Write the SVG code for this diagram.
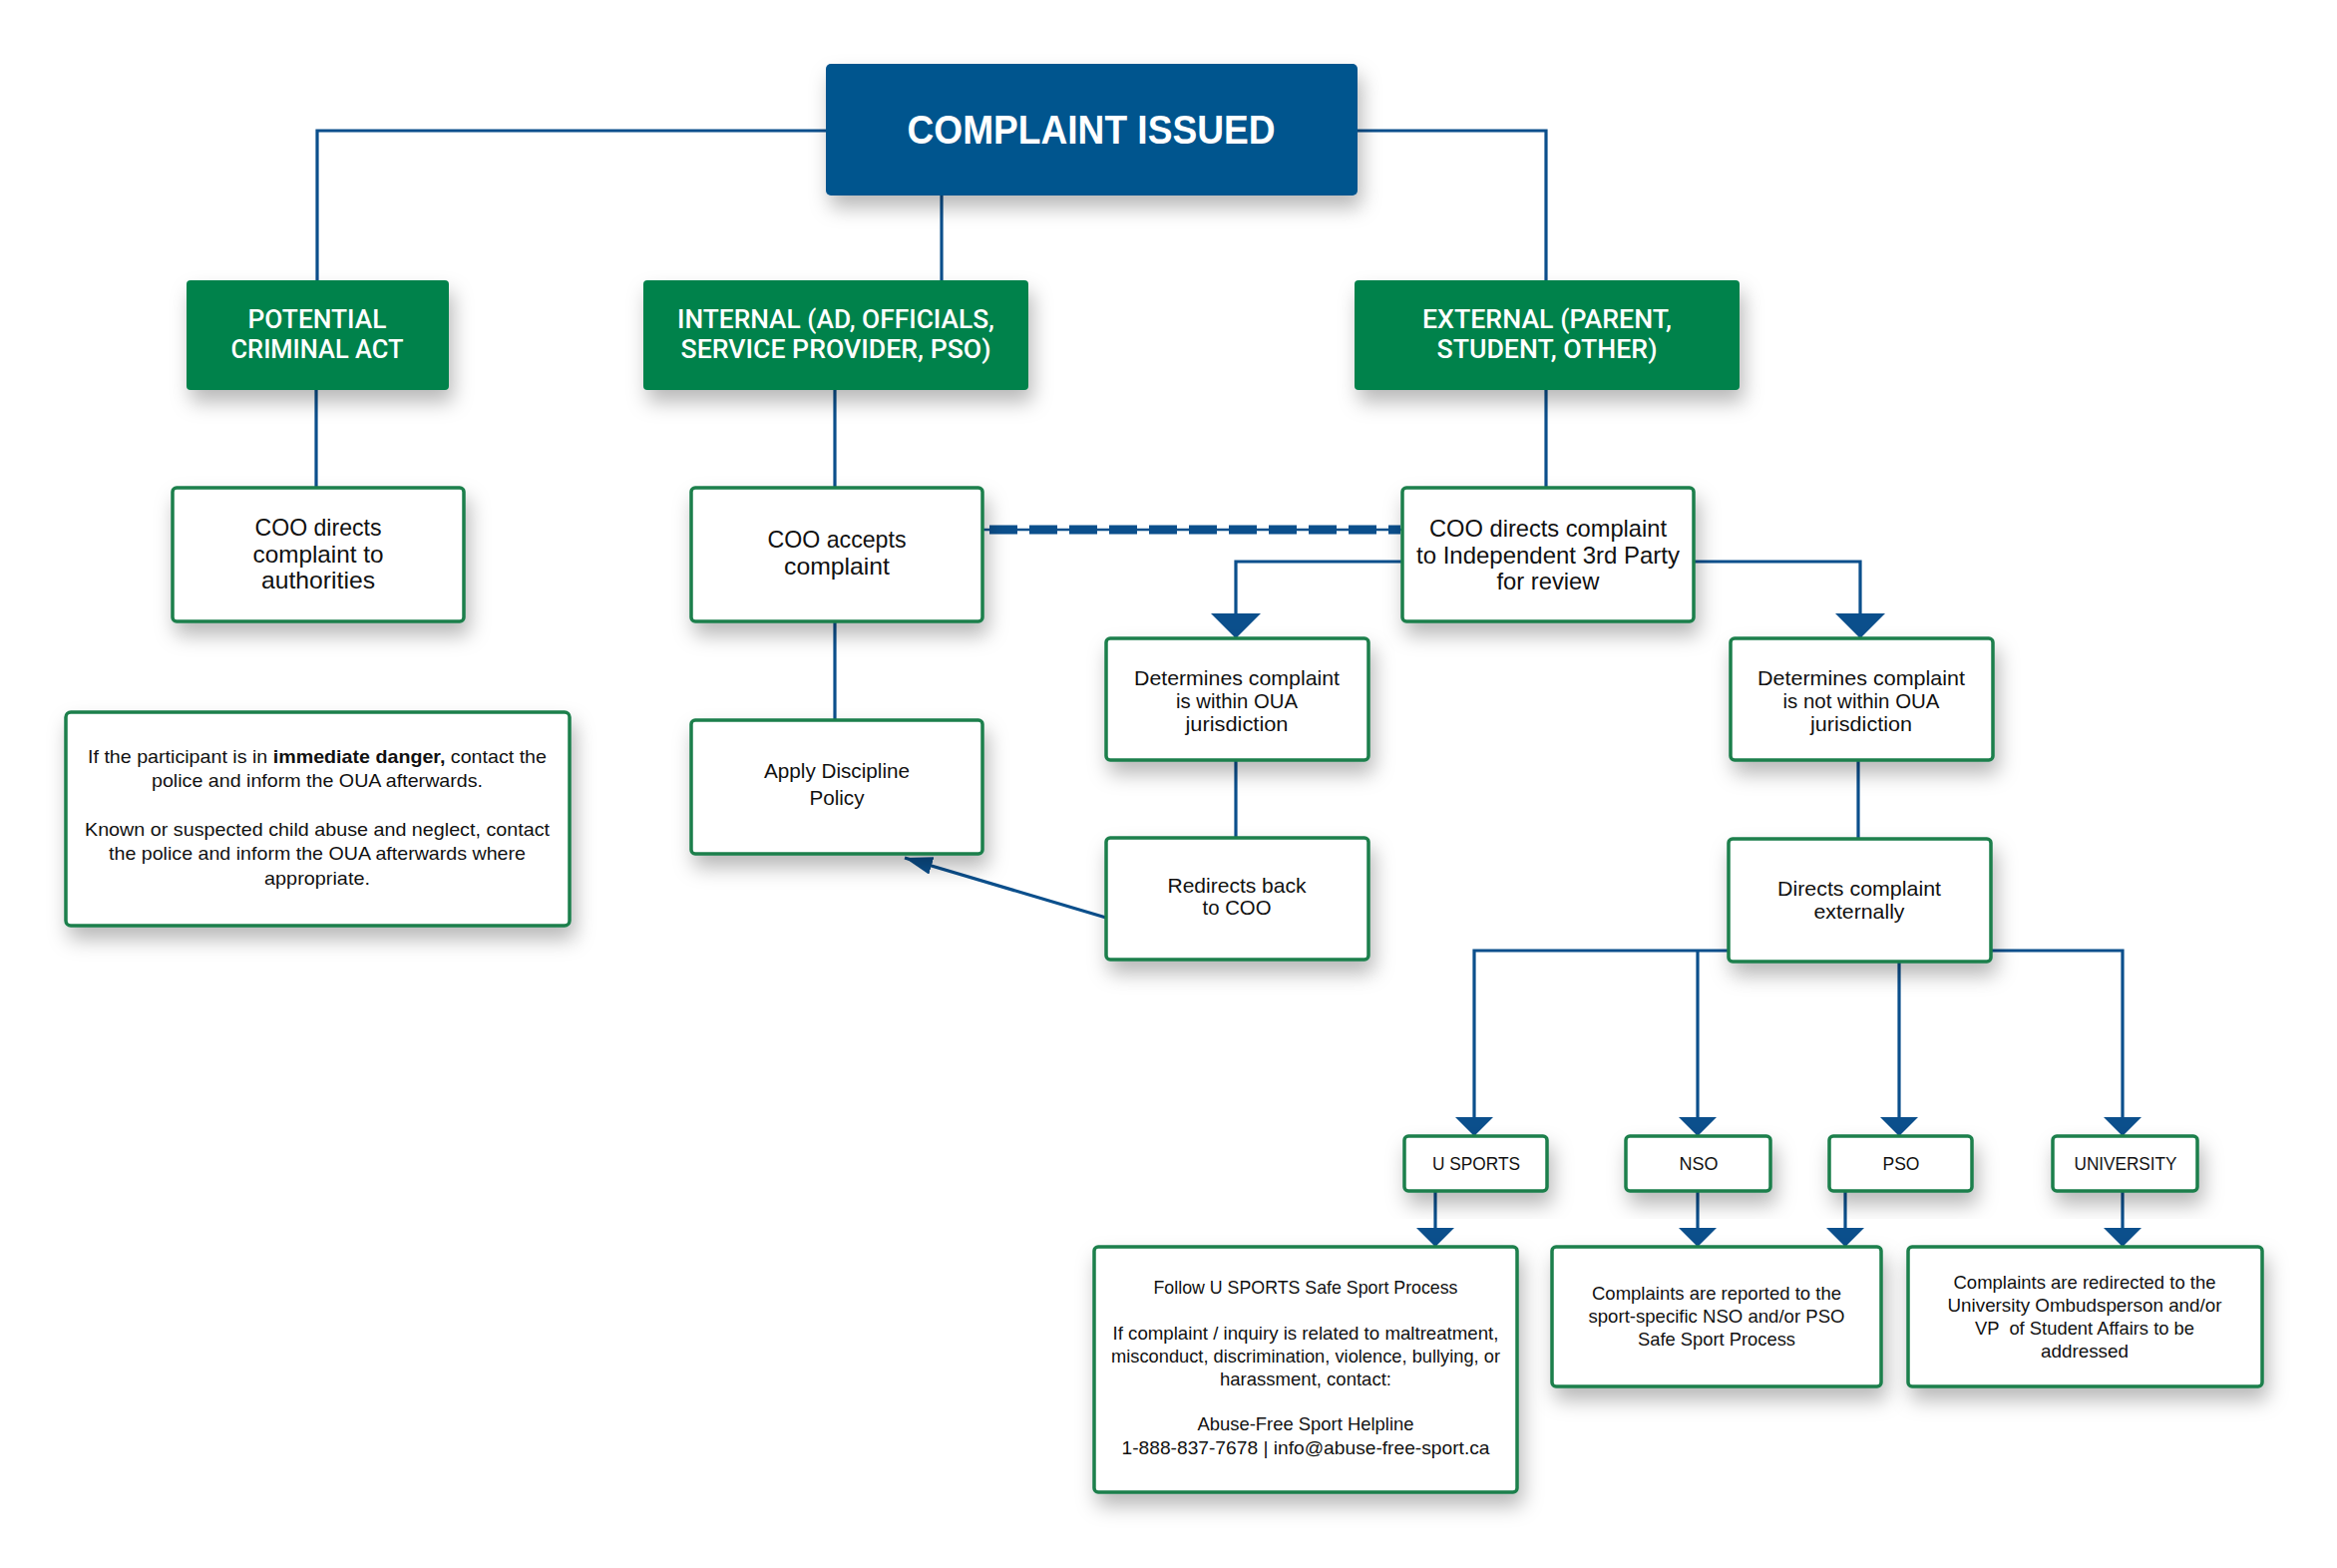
<svg xmlns="http://www.w3.org/2000/svg" width="2343" height="1572" viewBox="0 0 2343 1572">
<defs>
<filter id="sh" x="-20%" y="-20%" width="140%" height="170%">
<feDropShadow dx="4" dy="12" stdDeviation="10" flood-color="#000" flood-opacity="0.28"/>
</filter>
<marker id="aL" viewBox="0 0 10 20" refX="10" refY="10" markerWidth="26" markerHeight="50" markerUnits="userSpaceOnUse" orient="auto">
<path d="M0,0 L10,10 L0,20 z" fill="#0B4F8C"/>
</marker>
<marker id="aS" viewBox="0 0 10 20" refX="10" refY="10" markerWidth="20" markerHeight="38" markerUnits="userSpaceOnUse" orient="auto">
<path d="M0,0 L10,10 L0,20 z" fill="#0B4F8C"/>
</marker>
<marker id="aD" viewBox="0 0 28 18" refX="28" refY="9" markerWidth="28" markerHeight="18" markerUnits="userSpaceOnUse" orient="auto">
<path d="M0,0 L28,9 L0,18 z" fill="#0B4F8C"/>
</marker>
</defs>
<style>
.c{stroke:#0B4F8C;stroke-width:3.2;fill:none}
.dl{stroke:#0B4F8C;stroke-width:2.5;fill:none}
.dd{stroke:#0B4F8C;stroke-width:9;fill:none;stroke-dasharray:28 12}
.w{fill:#fff;stroke:#1B7F4C;stroke-width:3.5}
.g{fill:#03824B}
.b{fill:#02548E}
text{font-family:"Liberation Sans",Arial,sans-serif;text-anchor:middle;fill:#111}
.h{font-family:Roboto,"Liberation Sans",sans-serif;font-weight:500;fill:#fff;font-size:26px}
.m{font-size:24px}
.s{font-size:21px}
.x{font-size:19px}
</style>
<rect width="2343" height="1572" fill="#fff"/>
<g id="connectors">
<path class="c" d="M828,131 H318 V281"/>
<path class="c" d="M1361,131 H1550 V281"/>
<path class="c" d="M944,196 V281"/>
<path class="c" d="M317,391 V489"/>
<path class="c" d="M837,391 V489"/>
<path class="c" d="M1550,391 V489"/>
<path class="dl" d="M985,531 H1406"/>
<path class="dd" d="M992,531 H1404"/>
<path class="c" d="M1406,563 H1239 V640" marker-end="url(#aL)"/>
<path class="c" d="M1698,563 H1865 V640" marker-end="url(#aL)"/>
<path class="c" d="M837,623 V722"/>
<path class="c" d="M1239,762 V840"/>
<path class="c" d="M1109,920 L907,860" marker-end="url(#aD)"/>
<path class="c" d="M1863,762 V841"/>
<path class="c" d="M1733,953 H1478 V1139" marker-end="url(#aS)"/>
<path class="c" d="M1702,953 V1139" marker-end="url(#aS)"/>
<path class="c" d="M1904,964 V1139" marker-end="url(#aS)"/>
<path class="c" d="M1996,953 H2128 V1139" marker-end="url(#aS)"/>
<path class="c" d="M1439,1194 V1250" marker-end="url(#aS)"/>
<path class="c" d="M1702,1194 V1250" marker-end="url(#aS)"/>
<path class="c" d="M1850,1194 V1250" marker-end="url(#aS)"/>
<path class="c" d="M2128,1194 V1250" marker-end="url(#aS)"/>
</g>
<g id="complaint-issued">
<rect class="b" x="828" y="64" width="533" height="132" rx="5" filter="url(#sh)"/>
<text x="1094" y="144" font-size="40" font-weight="bold" textLength="369" lengthAdjust="spacingAndGlyphs" style="fill:#fff">COMPLAINT ISSUED</text>
</g>
<g id="potential-criminal-act">
<rect class="g" x="187" y="281" width="263" height="110" rx="4" filter="url(#sh)"/>
<text class="h" x="318" y="329" textLength="139" lengthAdjust="spacingAndGlyphs">POTENTIAL</text>
<text class="h" x="318" y="359" textLength="173" lengthAdjust="spacingAndGlyphs">CRIMINAL ACT</text>
</g>
<g id="internal">
<rect class="g" x="645" y="281" width="386" height="110" rx="4" filter="url(#sh)"/>
<text class="h" x="838" y="329" textLength="318" lengthAdjust="spacingAndGlyphs">INTERNAL (AD, OFFICIALS,</text>
<text class="h" x="838" y="359" textLength="311" lengthAdjust="spacingAndGlyphs">SERVICE PROVIDER, PSO)</text>
</g>
<g id="external">
<rect class="g" x="1358" y="281" width="386" height="110" rx="4" filter="url(#sh)"/>
<text class="h" x="1551" y="329" textLength="250" lengthAdjust="spacingAndGlyphs">EXTERNAL (PARENT,</text>
<text class="h" x="1551" y="359" textLength="221" lengthAdjust="spacingAndGlyphs">STUDENT, OTHER)</text>
</g>
<g id="coo-authorities">
<rect class="w" x="173" y="489" width="292" height="134" rx="4" filter="url(#sh)"/>
<text class="m" x="319" y="537" textLength="127" lengthAdjust="spacingAndGlyphs">COO directs</text>
<text class="m" x="319" y="564" textLength="131" lengthAdjust="spacingAndGlyphs">complaint to</text>
<text class="m" x="319" y="590" textLength="114" lengthAdjust="spacingAndGlyphs">authorities</text>
</g>
<g id="coo-accepts">
<rect class="w" x="693" y="489" width="292" height="134" rx="4" filter="url(#sh)"/>
<text class="m" x="839" y="549" textLength="139" lengthAdjust="spacingAndGlyphs">COO accepts</text>
<text class="m" x="839" y="576" textLength="106" lengthAdjust="spacingAndGlyphs">complaint</text>
</g>
<g id="coo-third-party">
<rect class="w" x="1406" y="489" width="292" height="134" rx="4" filter="url(#sh)"/>
<text class="m" x="1552" y="538" textLength="238" lengthAdjust="spacingAndGlyphs">COO directs complaint</text>
<text class="m" x="1552" y="565" textLength="264" lengthAdjust="spacingAndGlyphs">to Independent 3rd Party</text>
<text class="m" x="1552" y="591" textLength="103" lengthAdjust="spacingAndGlyphs">for review</text>
</g>
<g id="within-oua">
<rect class="w" x="1109" y="640" width="263" height="122" rx="4" filter="url(#sh)"/>
<text class="s" x="1240" y="687" textLength="206" lengthAdjust="spacingAndGlyphs">Determines complaint</text>
<text class="s" x="1240" y="710" textLength="122" lengthAdjust="spacingAndGlyphs">is within OUA</text>
<text class="s" x="1240" y="733" textLength="103" lengthAdjust="spacingAndGlyphs">jurisdiction</text>
</g>
<g id="not-within-oua">
<rect class="w" x="1735" y="640" width="263" height="122" rx="4" filter="url(#sh)"/>
<text class="s" x="1866" y="687" textLength="208" lengthAdjust="spacingAndGlyphs">Determines complaint</text>
<text class="s" x="1866" y="710" textLength="157" lengthAdjust="spacingAndGlyphs">is not within OUA</text>
<text class="s" x="1866" y="733" textLength="102" lengthAdjust="spacingAndGlyphs">jurisdiction</text>
</g>
<g id="apply-discipline">
<rect class="w" x="693" y="722" width="292" height="134" rx="4" filter="url(#sh)"/>
<text class="s" x="839" y="780" textLength="146" lengthAdjust="spacingAndGlyphs">Apply Discipline</text>
<text class="s" x="839" y="807" textLength="55" lengthAdjust="spacingAndGlyphs">Policy</text>
</g>
<g id="redirects-back">
<rect class="w" x="1109" y="840" width="263" height="122" rx="4" filter="url(#sh)"/>
<text class="s" x="1240" y="895" textLength="139" lengthAdjust="spacingAndGlyphs">Redirects back</text>
<text class="s" x="1240" y="917" textLength="69" lengthAdjust="spacingAndGlyphs">to COO</text>
</g>
<g id="directs-externally">
<rect class="w" x="1733" y="841" width="263" height="123" rx="4" filter="url(#sh)"/>
<text class="s" x="1864" y="898" textLength="164" lengthAdjust="spacingAndGlyphs">Directs complaint</text>
<text class="s" x="1864" y="921" textLength="91" lengthAdjust="spacingAndGlyphs">externally</text>
</g>
<g id="usports">
<rect class="w" x="1408" y="1139" width="143" height="55" rx="4" filter="url(#sh)"/>
<text class="x" x="1480" y="1173" textLength="88" lengthAdjust="spacingAndGlyphs">U SPORTS</text>
</g>
<g id="nso">
<rect class="w" x="1630" y="1139" width="145" height="55" rx="4" filter="url(#sh)"/>
<text class="x" x="1703" y="1173" textLength="39" lengthAdjust="spacingAndGlyphs">NSO</text>
</g>
<g id="pso">
<rect class="w" x="1834" y="1139" width="143" height="55" rx="4" filter="url(#sh)"/>
<text class="x" x="1906" y="1173" textLength="37" lengthAdjust="spacingAndGlyphs">PSO</text>
</g>
<g id="university">
<rect class="w" x="2058" y="1139" width="145" height="55" rx="4" filter="url(#sh)"/>
<text class="x" x="2131" y="1173" textLength="103" lengthAdjust="spacingAndGlyphs">UNIVERSITY</text>
</g>
<g id="follow-usports">
<rect class="w" x="1097" y="1250" width="424" height="246" rx="4" filter="url(#sh)"/>
<text class="x" x="1309" y="1297" textLength="305" lengthAdjust="spacingAndGlyphs">Follow U SPORTS Safe Sport Process</text>
<text class="x" x="1309" y="1343" textLength="387" lengthAdjust="spacingAndGlyphs">If complaint / inquiry is related to maltreatment,</text>
<text class="x" x="1309" y="1366" textLength="390" lengthAdjust="spacingAndGlyphs">misconduct, discrimination, violence, bullying, or</text>
<text class="x" x="1309" y="1389" textLength="172" lengthAdjust="spacingAndGlyphs">harassment, contact:</text>
<text class="x" x="1309" y="1434" textLength="217" lengthAdjust="spacingAndGlyphs">Abuse-Free Sport Helpline</text>
<text class="x" x="1309" y="1458" textLength="369" lengthAdjust="spacingAndGlyphs">1-888-837-7678 | info@abuse-free-sport.ca</text>
</g>
<g id="nso-pso-process">
<rect class="w" x="1556" y="1250" width="330" height="140" rx="4" filter="url(#sh)"/>
<text class="x" x="1721" y="1303" textLength="250" lengthAdjust="spacingAndGlyphs">Complaints are reported to the</text>
<text class="x" x="1721" y="1326" textLength="257" lengthAdjust="spacingAndGlyphs">sport-specific NSO and/or PSO</text>
<text class="x" x="1721" y="1349" textLength="158" lengthAdjust="spacingAndGlyphs">Safe Sport Process</text>
</g>
<g id="university-process">
<rect class="w" x="1913" y="1250" width="355" height="140" rx="4" filter="url(#sh)"/>
<text class="x" x="2090" y="1292" textLength="263" lengthAdjust="spacingAndGlyphs">Complaints are redirected to the</text>
<text class="x" x="2090" y="1315" textLength="275" lengthAdjust="spacingAndGlyphs">University Ombudsperson and/or</text>
<text class="x" x="2090" y="1338" textLength="220" lengthAdjust="spacingAndGlyphs" xml:space="preserve">VP  of Student Affairs to be</text>
<text class="x" x="2090" y="1361" textLength="88" lengthAdjust="spacingAndGlyphs">addressed</text>
</g>
<g id="danger-note">
<rect class="w" x="66" y="714" width="505" height="214" rx="5" filter="url(#sh)"/>
<text class="x" x="318" y="765" textLength="460" lengthAdjust="spacingAndGlyphs">If the participant is in <tspan font-weight="bold">immediate danger,</tspan> contact the</text>
<text class="x" x="318" y="789" textLength="332" lengthAdjust="spacingAndGlyphs">police and inform the OUA afterwards.</text>
<text class="x" x="318" y="838" textLength="466" lengthAdjust="spacingAndGlyphs">Known or suspected child abuse and neglect, contact</text>
<text class="x" x="318" y="862" textLength="418" lengthAdjust="spacingAndGlyphs">the police and inform the OUA afterwards where</text>
<text class="x" x="318" y="887" textLength="106" lengthAdjust="spacingAndGlyphs">appropriate.</text>
</g>
</svg>
